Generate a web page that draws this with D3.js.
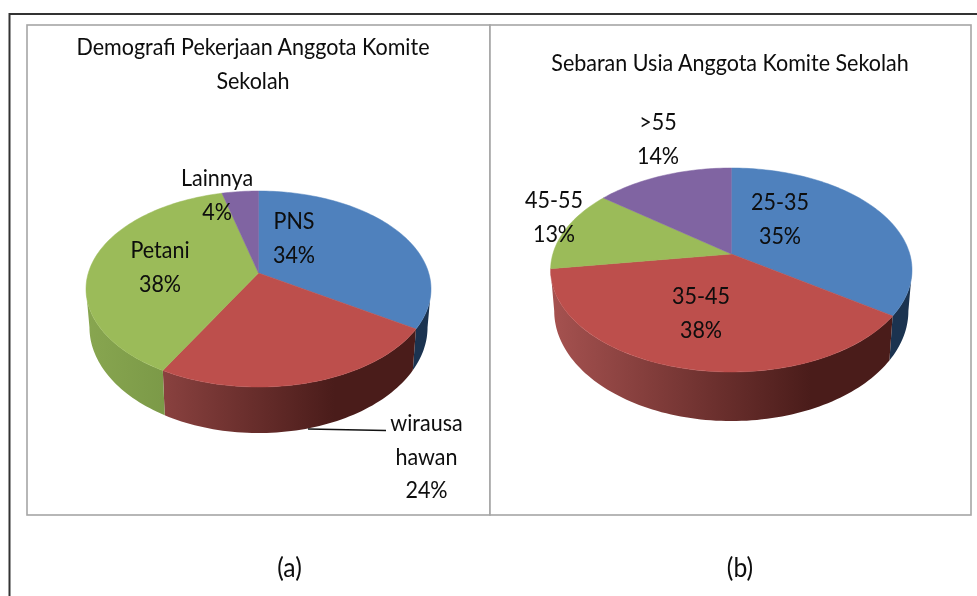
<!DOCTYPE html>
<html>
<head>
<meta charset="utf-8">
<script src="https://cdnjs.cloudflare.com/ajax/libs/d3/7.8.5/d3.min.js"></script>
<style>
  html, body { margin: 0; padding: 0; background: #fff; }
  svg { display: block; }
  text { font-family: Lato, "Open Sans", sans-serif; fill: #0a0a0a; text-anchor: middle; }
</style>
</head>
<body>
<div id="chart-area"></div>
<script>
var jobCategories = ["PNS", "wirausa hawan", "Petani", "Lainnya"];
var jobValues = [34, 24, 38, 4];
var ageCategories = ["25-35", "35-45", "45-55", ">55"];
var ageValues = [34.6, 38.1, 12.9, 14.4];

var titleJob = ["Demografi Pekerjaan Anggota Komite", "Sekolah"];
var titleAge = ["Sebaran Usia Anggota Komite Sekolah"];

var topColors = ["#4f81bd", "#bd4f4c", "#9bbb59", "#8064a2"];
var sideLight = ["#4a7ab5", "#a65250", "#88a650", "#7a5f9b"];
var sideDark = ["#1b3350", "#4a1c1a", "#607f35", "#3d2c52"];

var width = 977;
var height = 596;
var fontSize = 23.5;
var textSquash = 0.915;
var lineGap = 33.5;

var svg = d3.select("#chart-area")
  .append("svg")
  .attr("width", width)
  .attr("height", height);

var defs = svg.append("defs");
var percent = d3.format(".0f");

defs.append("filter")
  .attr("id", "soft")
  .append("feGaussianBlur")
  .attr("stdDeviation", 0.4);

// outer frame, open on the right and bottom
svg.append("path")
  .attr("d", "M9.5,596V14H977")
  .attr("fill", "none")
  .attr("stroke", "#333")
  .attr("stroke-width", 2);

// two chart boxes
svg.append("rect")
  .attr("x", 27).attr("y", 25)
  .attr("width", 463).attr("height", 490)
  .attr("fill", "#fff").attr("stroke", "#a6a6a6").attr("stroke-width", 1.6);
svg.append("rect")
  .attr("x", 490).attr("y", 25)
  .attr("width", 481).attr("height", 490)
  .attr("fill", "#fff").attr("stroke", "#a6a6a6").attr("stroke-width", 1.6);

var line = d3.line();

// tilted disc: perspective map from the unit circle to the screen
function makeProjector(cfg) {
  var k = (cfg.front - cfg.back) / (cfg.front + cfg.back);
  var B = cfg.front * (1 - k);
  var A = cfg.rx * Math.sqrt(1 - k * k);
  var project = function(angle, r, isBottom) {
    var u = Math.sin(angle) * r;
    var v = -Math.cos(angle) * r;
    var w = 1 - k * v;
    var s = isBottom ? cfg.shrink : 1;
    var dy = isBottom ? cfg.depth / Math.pow(w, 1.5) : 0;
    return [cfg.cx + s * A * u / w, cfg.cy + dy + s * B * v / w];
  };
  // the wall only shows in front of the widest points of the disc
  project.wallFrom = Math.acos(-k);
  project.wallTo = 2 * Math.PI - Math.acos(-k);
  return project;
}

function sweep(a0, a1) {
  var n = Math.max(8, Math.ceil((a1 - a0) * 40));
  return d3.range(n + 1).map(function(i) {
    return a0 + (a1 - a0) * i / n;
  });
}

function drawPie(id, values, cfg) {
  var project = makeProjector(cfg);
  var slices = d3.pie().sort(null)(values);
  var g = svg.append("g").attr("class", "pie-" + id);

  topColors.forEach(function(c, i) {
    var grad = defs.append("linearGradient")
      .attr("id", id + "-side-" + i)
      .attr("gradientUnits", "userSpaceOnUse")
      .attr("x1", cfg.cx - cfg.rx).attr("x2", cfg.cx + cfg.rx)
      .attr("y1", 0).attr("y2", 0);
    grad.append("stop").attr("offset", 0).attr("stop-color", sideLight[i]);
    grad.append("stop").attr("offset", 0.72).attr("stop-color", sideDark[i]);
    grad.append("stop").attr("offset", 1).attr("stop-color", sideDark[i]);
  });

  var walls = slices.filter(function(d) {
    return d.endAngle > project.wallFrom && d.startAngle < project.wallTo;
  });

  g.selectAll("path.side")
    .data(walls)
    .enter().append("path")
    .attr("class", "side")
    .attr("fill", function(d) { return "url(#" + id + "-side-" + d.index + ")"; })
    .attr("d", function(d) {
      var a = sweep(Math.max(d.startAngle, project.wallFrom), Math.min(d.endAngle, project.wallTo));
      var upper = a.map(function(t) { return project(t, 1, false); });
      var lower = a.slice().reverse().map(function(t) { return project(t, 1, true); });
      return line(upper.concat(lower)) + "Z";
    });

  g.selectAll("path.face")
    .data(slices)
    .enter().append("path")
    .attr("class", "face")
    .attr("fill", function(d) { return topColors[d.index]; })
    .attr("stroke", function(d) { return topColors[d.index]; })
    .attr("stroke-width", 0.5)
    .attr("d", function(d) {
      var pts = sweep(d.startAngle, d.endAngle).map(function(t) { return project(t, 1, false); });
      return line([project(0, 0, false)].concat(pts)) + "Z";
    });
}

function textLines(x, y, lines, size) {
  lines.forEach(function(t, i) {
    svg.append("text")
      .attr("transform", "translate(" + x + "," + (y + i * lineGap) + ") scale(" + textSquash + ",1)")
      .attr("font-size", size || fontSize)
      .attr("filter", "url(#soft)")
      .text(t);
  });
}

drawPie("job", jobValues, { cx: 258.5, cy: 273, rx: 172.5, back: 82, front: 114, depth: 37, shrink: 0.98 });
drawPie("age", ageValues, { cx: 731.3, cy: 254, rx: 180.7, back: 86, front: 118, depth: 39.8, shrink: 0.98 });

// leader line for the wirausaha label
svg.append("line")
  .attr("x1", 308).attr("y1", 429)
  .attr("x2", 386).attr("y2", 430.5)
  .attr("stroke", "#111")
  .attr("stroke-width", 1.5);

textLines(253, 55, titleJob);
textLines(730, 71, titleAge);

textLines(294, 229, [jobCategories[0], percent(jobValues[0]) + "%"]);
textLines(426.5, 431, ["wirausa", "hawan", percent(jobValues[1]) + "%"]);
textLines(160, 258, [jobCategories[2], percent(jobValues[2]) + "%"]);
textLines(217, 186, [jobCategories[3], percent(jobValues[3]) + "%"]);

textLines(780, 210, [ageCategories[0], percent(ageValues[0]) + "%"]);
textLines(701, 304, [ageCategories[1], percent(ageValues[1]) + "%"]);
textLines(554, 208, [ageCategories[2], percent(ageValues[2]) + "%"]);
textLines(658, 130, [ageCategories[3], percent(ageValues[3]) + "%"]);

textLines(289.5, 577, ["(a)"], 27);
textLines(740, 577, ["(b)"], 27);
</script>
</body>
</html>
